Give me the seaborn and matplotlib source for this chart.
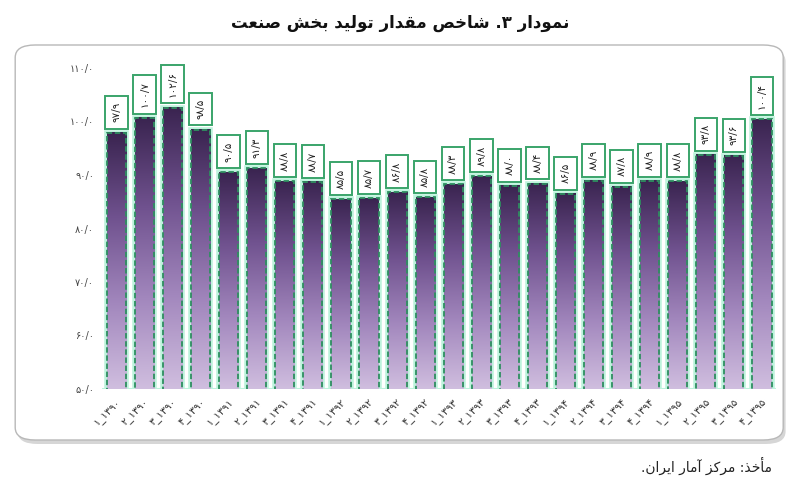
import matplotlib
matplotlib.use('Agg')  # no display
import numpy as np
import pandas as pd
import matplotlib.pyplot as plt
import seaborn as sns
from matplotlib.patches import Rectangle, FancyBboxPatch
from matplotlib.colors import LinearSegmentedColormap

# ======================
# DATA
# ======================
years = [1390, 1391, 1392, 1393, 1394, 1395]
quarter_nums = [1, 2, 3, 4]
values = [97.9, 100.7, 102.6, 98.5,
          90.5, 91.3, 88.8, 88.7,
          85.5, 85.7, 86.8, 85.8,
          88.3, 89.8, 88.0, 88.4,
          86.5, 88.9, 87.8, 88.9,
          88.8, 93.8, 93.6, 100.4]
y_ticks = [50, 60, 70, 80, 90, 100, 110]

title_text = "نمودار ۳. شاخص مقدار تولید بخش صنعت"
source_text = "مأخذ: مرکز آمار ایران."

# ======================
# PERSIAN HELPERS (no shaping engine in matplotlib)
# ======================
FA_DIGITS = str.maketrans("0123456789.", "۰۱۲۳۴۵۶۷۸۹/")

def fa_num(v, fmt="{:.1f}"):
    return fmt.format(v).translate(FA_DIGITS)

FORMS = {
    'ا': ('\uFE8D', '\uFE8E'), 'آ': ('\uFE81', '\uFE82'),
    'أ': ('\uFE83', '\uFE84'), 'د': ('\uFEA9', '\uFEAA'),
    'ذ': ('\uFEAB', '\uFEAC'), 'ر': ('\uFEAD', '\uFEAE'),
    'ز': ('\uFEAF', '\uFEB0'), 'و': ('\uFEED', '\uFEEE'),
    'ب': ('\uFE8F', '\uFE90', '\uFE91', '\uFE92'),
    'ت': ('\uFE95', '\uFE96', '\uFE97', '\uFE98'),
    'خ': ('\uFEA5', '\uFEA6', '\uFEA7', '\uFEA8'),
    'ش': ('\uFEB5', '\uFEB6', '\uFEB7', '\uFEB8'),
    'ص': ('\uFEB9', '\uFEBA', '\uFEBB', '\uFEBC'),
    'ع': ('\uFEC9', '\uFECA', '\uFECB', '\uFECC'),
    'ق': ('\uFED5', '\uFED6', '\uFED7', '\uFED8'),
    'ل': ('\uFEDD', '\uFEDE', '\uFEDF', '\uFEE0'),
    'م': ('\uFEE1', '\uFEE2', '\uFEE3', '\uFEE4'),
    'ن': ('\uFEE5', '\uFEE6', '\uFEE7', '\uFEE8'),
    '\u06CC': ('\uFBFC', '\uFBFD', '\uFBFE', '\uFBFF'),
    '\u064A': ('\uFBFC', '\uFBFD', '\uFBFE', '\uFBFF'),
    '\u06A9': ('\uFB8E', '\uFB8F', '\uFB90', '\uFB91'),
    '\u0643': ('\uFB8E', '\uFB8F', '\uFB90', '\uFB91'),
}

def rtl(s):
    out = []
    for i, c in enumerate(s):
        if c not in FORMS:
            out.append(c)
            continue
        prev = s[i - 1] if i > 0 else ''
        nxt = s[i + 1] if i + 1 < len(s) else ''
        pj = prev in FORMS and len(FORMS[prev]) == 4
        nj = nxt in FORMS and len(FORMS[c]) == 4
        f = FORMS[c]
        if pj and nj:
            out.append(f[3])
        elif pj:
            out.append(f[1])
        elif nj:
            out.append(f[2])
        else:
            out.append(f[0])
    return ''.join(out)[::-1]

# ======================
# TABLE
# ======================
labels = [f"{q}_{y}".translate(FA_DIGITS) for y in years for q in quarter_nums]
df = pd.DataFrame({'quarter': labels, 'value': values})

# ======================
# PLOT
# ======================
sns.set_theme(style='white')
plt.rcParams['font.family'] = ['DejaVu Sans']

fig = plt.figure(figsize=(8, 5), dpi=100)
fig.patch.set_facecolor('white')

# rounded frame with soft shadow
shadow = FancyBboxPatch((0.022, 0.112), 0.96, 0.79,
                        boxstyle='round,pad=0,rounding_size=0.025',
                        transform=fig.transFigure, fc='#d6d6d6', ec='none', zorder=-2)
frame = FancyBboxPatch((0.019, 0.12), 0.96, 0.79,
                       boxstyle='round,pad=0,rounding_size=0.025',
                       transform=fig.transFigure, fc='white', ec='#b8b8b8', lw=1.0, zorder=-1)
fig.patches.extend([shadow, frame])

ax = fig.add_axes([0.128, 0.222, 0.842, 0.642])
ax.set_facecolor('none')

sns.barplot(data=df, x='quarter', y='value', order=labels, width=0.68,
            color='#5a3d75', ax=ax)

cmap = LinearSegmentedColormap.from_list(
    'purp', ['#d0bedf', '#a287bd', '#70528f', '#3a2450'])
grad = np.linspace(0, 1, 256).reshape(-1, 1)
y0 = y_ticks[0]

for patch in ax.patches:
    x = patch.get_x()
    w = patch.get_width()
    h = patch.get_height()
    patch.set_facecolor('none')
    patch.set_edgecolor('#2e8f60')
    patch.set_linestyle((0, (3, 1.5)))
    patch.set_linewidth(1.3)
    patch.set_zorder(4)
    ax.imshow(grad, extent=[x, x + w, y0, h], origin='lower', cmap=cmap,
              aspect='auto', zorder=3, interpolation='bicubic')
    glow = Rectangle((x, y0), w, h - y0, fill=False, ec='#bdf3dc', lw=4, zorder=2)
    ax.add_patch(glow)
    ax.annotate(fa_num(h), xy=(x + w / 2, h), xytext=(0, 7.5),
                textcoords='offset points', rotation=90, ha='center', va='bottom',
                fontsize=7.5, color='#222222', zorder=6,
                bbox=dict(boxstyle='square,pad=0.6', fc='white', ec='#3aa46a', lw=1.4))

ax.axhline(y0, color='#bdf3dc', lw=1.5, zorder=1)

ax.set_xlim(-0.5, len(labels) - 0.5)
ax.set_ylim(y_ticks[0], y_ticks[-1])
ax.set_yticks(y_ticks)
ax.set_yticklabels([fa_num(t) for t in y_ticks], fontsize=7, color='#444444')
ax.set_xticks(range(len(labels)))
ax.set_xticklabels(labels, rotation=45, ha='right', rotation_mode='anchor',
                   fontsize=7.5, color='#333333')
ax.tick_params(axis='both', length=0, pad=6)
ax.set_xlabel('')
ax.set_ylabel('')
for s in ax.spines.values():
    s.set_visible(False)

fig.text(0.5, 0.955, rtl(title_text), ha='center', va='center',
         fontsize=12, fontweight='bold', color='#111111')
fig.text(0.965, 0.068, rtl(source_text), ha='right', va='center',
         fontsize=10, color='#222222')

plt.savefig('out.png', dpi=100)
plt.close()
